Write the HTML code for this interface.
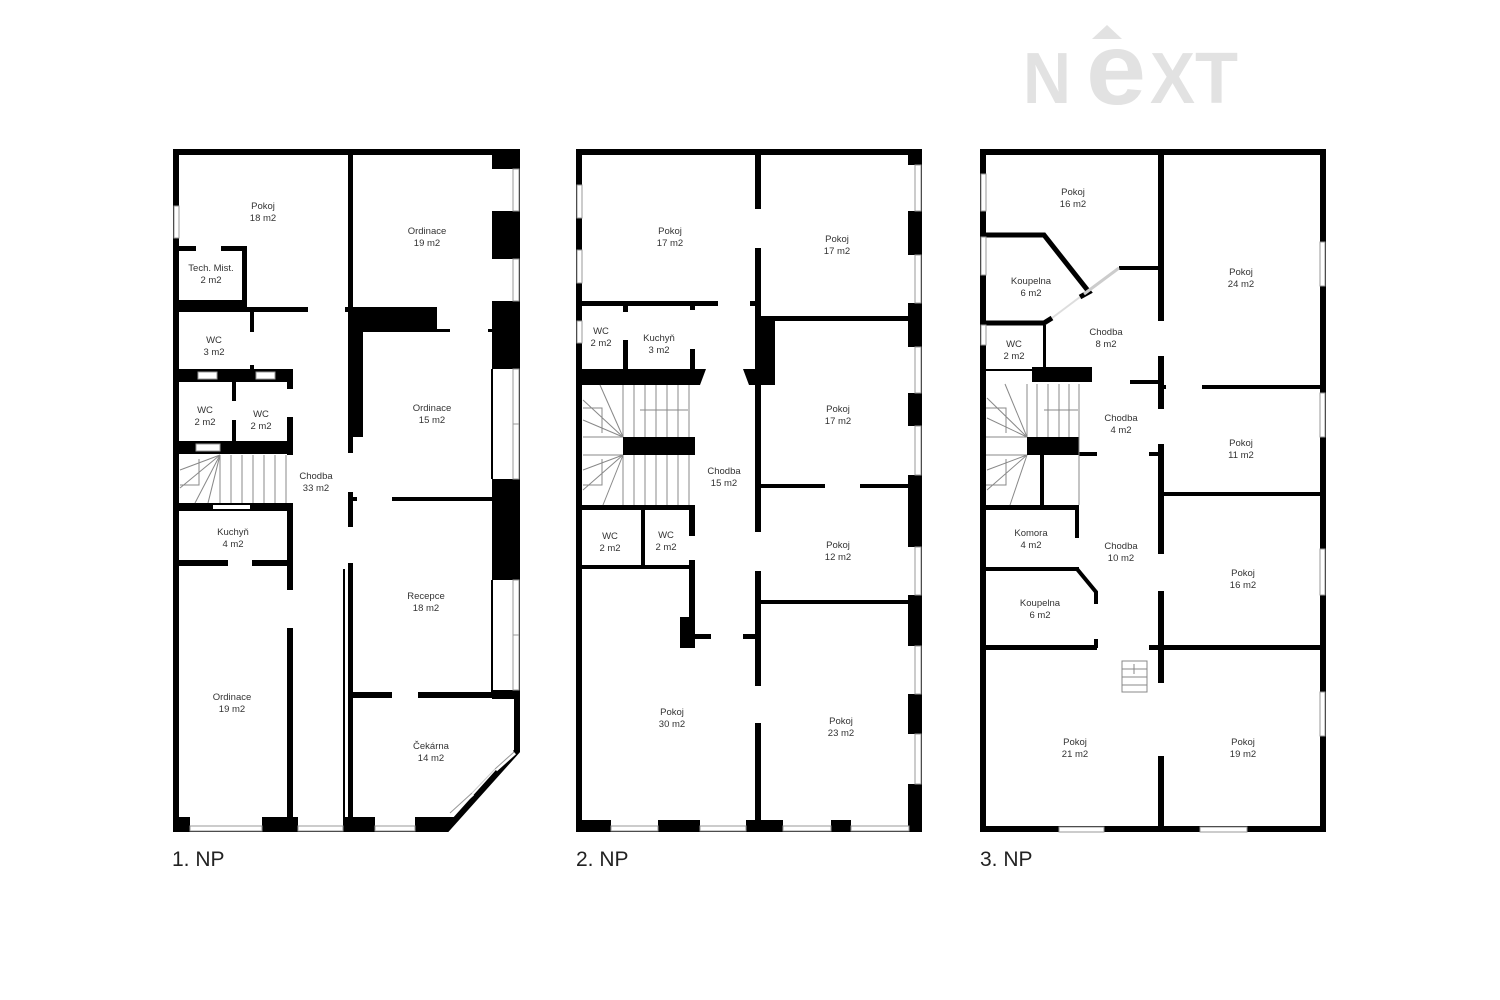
<!DOCTYPE html>
<html><head><meta charset="utf-8"><style>
html,body{margin:0;padding:0;background:#fff;}
svg{display:block;}
text{font-family:"Liberation Sans",sans-serif;}
.l{font-size:9.5px;fill:#333;text-anchor:middle;}
.w{fill:#fff;stroke:#999;stroke-width:1;}
.s{stroke:#888;stroke-width:1;fill:none;}
</style></head><body>
<svg width="1500" height="1000" viewBox="0 0 1500 1000" xmlns="http://www.w3.org/2000/svg">
<rect width="1500" height="1000" fill="#fff"/>
<!-- logo -->
<g fill="#e2e2e2" font-weight="bold" font-family="Liberation Sans, sans-serif">
<text x="1023" y="103" font-size="72" textLength="48" lengthAdjust="spacingAndGlyphs">N</text>
<text x="1086" y="104" font-size="102" textLength="60" lengthAdjust="spacingAndGlyphs">e</text>
<text x="1150" y="103" font-size="72" textLength="45" lengthAdjust="spacingAndGlyphs">X</text>
<text x="1195" y="103" font-size="72" textLength="43" lengthAdjust="spacingAndGlyphs">T</text>
</g>
<polygon points="1092,39 1107,25 1122,39" fill="#e2e2e2"/>

<!-- ================= FLOOR 1 ================= -->
<g fill="#000">
<polygon points="176,152 517,152 517,751 447,829 176,829" fill="none" stroke="#000" stroke-width="6"/>
<rect x="348" y="149" width="5" height="304"/>
<rect x="348" y="492" width="5" height="35"/>
<rect x="348" y="563" width="5" height="269"/>
<rect x="343" y="569" width="2" height="262"/>
<rect x="176" y="246" width="20" height="5"/>
<rect x="221" y="246" width="25" height="5"/>
<rect x="242" y="246" width="5" height="66"/>
<rect x="173" y="300" width="74" height="12"/>
<rect x="173" y="307" width="135" height="5"/>
<rect x="345" y="307" width="8" height="5"/>
<rect x="250" y="310" width="4" height="22"/>
<rect x="250" y="365" width="4" height="8"/>
<rect x="173" y="369" width="119" height="13"/>
<rect x="232" y="381" width="4" height="20"/>
<rect x="232" y="420" width="4" height="26"/>
<rect x="287" y="369" width="6" height="20"/>
<rect x="287" y="417" width="6" height="38"/>
<rect x="173" y="441" width="120" height="13"/>
<rect x="173" y="503" width="120" height="8"/>
<rect x="287" y="503" width="6" height="87"/>
<rect x="287" y="628" width="6" height="204"/>
<rect x="173" y="560" width="55" height="6"/>
<rect x="252" y="560" width="41" height="6"/>
<rect x="173" y="817" width="17" height="15"/>
<rect x="262" y="817" width="36" height="15"/>
<rect x="343" y="817" width="32" height="15"/>
<polygon points="415,817 455,817 447,832 415,832"/>
<rect x="348" y="307" width="89" height="25"/>
<rect x="437" y="329" width="13" height="3"/>
<rect x="488" y="329" width="26" height="3"/>
<rect x="353" y="310" width="10" height="127"/>
<rect x="353" y="497" width="4" height="4"/>
<rect x="392" y="497" width="100" height="4"/>
<rect x="491" y="369" width="2" height="110"/>
<rect x="491" y="580" width="2" height="112"/>
<rect x="492" y="149" width="28" height="20"/>
<rect x="492" y="211" width="28" height="48"/>
<rect x="492" y="301" width="28" height="68"/>
<rect x="492" y="479" width="28" height="101"/>
<rect x="492" y="690" width="28" height="9"/>
<rect x="348" y="692" width="44" height="6"/>
<rect x="418" y="692" width="102" height="6"/>
</g>
<g>
<rect class="w" x="198" y="372" width="19" height="7"/>
<rect class="w" x="256" y="372" width="19" height="7"/>
<rect class="w" x="196" y="444" width="24" height="7"/>
<rect x="213" y="505" width="37" height="4" fill="#fff"/>
<rect x="228" y="561" width="24" height="4" fill="#fff"/>
<rect class="w" x="174" y="206" width="5" height="32"/>
<rect class="w" x="513" y="169" width="6" height="42"/>
<rect class="w" x="513" y="259" width="6" height="42"/>
<rect class="w" x="513" y="369" width="6" height="55"/>
<rect class="w" x="513" y="424" width="6" height="55"/>
<rect class="w" x="513" y="580" width="6" height="55"/>
<rect class="w" x="513" y="635" width="6" height="55"/>
<rect class="w" x="190" y="826" width="72" height="5"/>
<rect class="w" x="298" y="826" width="45" height="5"/>
<rect class="w" x="375" y="826" width="40" height="5"/>
<line x1="495" y1="769" x2="514" y2="752" stroke="#fff" stroke-width="6"/>
<line x1="450" y1="813" x2="472" y2="793" stroke="#fff" stroke-width="6"/>
<line x1="495" y1="769" x2="514" y2="752" stroke="#999" stroke-width="1"/>
<line x1="450" y1="813" x2="472" y2="793" stroke="#999" stroke-width="1"/>
<line x1="472" y1="793" x2="495" y2="769" stroke="#ccc" stroke-width="1"/>
</g>
<g class="s">
<line x1="220" y1="455" x2="220" y2="503"/><line x1="231" y1="455" x2="231" y2="503"/>
<line x1="242" y1="455" x2="242" y2="503"/><line x1="253" y1="455" x2="253" y2="503"/>
<line x1="264" y1="455" x2="264" y2="503"/><line x1="275" y1="455" x2="275" y2="503"/>
<line x1="286" y1="455" x2="286" y2="503"/>
<line x1="220" y1="455" x2="180" y2="470"/><line x1="220" y1="455" x2="180" y2="488"/>
<line x1="220" y1="455" x2="195" y2="503"/><line x1="220" y1="455" x2="208" y2="503"/>
<polyline points="199,459 199,485 180,485"/>
</g>
<g class="l">
<text x="263" y="209">Pokoj</text><text x="263" y="221">18 m2</text>
<text x="211" y="271">Tech. Mist.</text><text x="211" y="283">2 m2</text>
<text x="427" y="234">Ordinace</text><text x="427" y="246">19 m2</text>
<text x="214" y="343">WC</text><text x="214" y="355">3 m2</text>
<text x="205" y="413">WC</text><text x="205" y="425">2 m2</text>
<text x="261" y="417">WC</text><text x="261" y="429">2 m2</text>
<text x="316" y="479">Chodba</text><text x="316" y="491">33 m2</text>
<text x="432" y="411">Ordinace</text><text x="432" y="423">15 m2</text>
<text x="233" y="535">Kuchyň</text><text x="233" y="547">4 m2</text>
<text x="426" y="599">Recepce</text><text x="426" y="611">18 m2</text>
<text x="232" y="700">Ordinace</text><text x="232" y="712">19 m2</text>
<text x="431" y="749">Čekárna</text><text x="431" y="761">14 m2</text>
</g>
<text x="172" y="866" font-size="21" fill="#222">1. NP</text>

<!-- ================= FLOOR 2 ================= -->
<g fill="#000">
<rect x="579" y="152" width="340" height="677" fill="none" stroke="#000" stroke-width="6"/>
<rect x="755" y="149" width="6" height="60"/>
<rect x="755" y="248" width="6" height="284"/>
<rect x="755" y="571" width="6" height="115"/>
<rect x="755" y="723" width="6" height="109"/>
<rect x="755" y="321" width="20" height="64"/>
<rect x="576" y="301" width="142" height="5"/>
<rect x="750" y="301" width="5" height="5"/>
<rect x="761" y="316" width="155" height="5"/>
<rect x="908" y="149" width="14" height="16"/>
<rect x="908" y="211" width="14" height="44"/>
<rect x="908" y="303" width="14" height="44"/>
<rect x="908" y="393" width="14" height="33"/>
<rect x="908" y="475" width="14" height="72"/>
<rect x="908" y="595" width="14" height="51"/>
<rect x="908" y="694" width="14" height="40"/>
<rect x="908" y="784" width="14" height="48"/>
<rect x="761" y="484" width="64" height="4"/>
<rect x="860" y="484" width="56" height="4"/>
<rect x="761" y="600" width="155" height="4"/>
<rect x="623" y="306" width="5" height="6"/>
<rect x="623" y="340" width="5" height="30"/>
<rect x="690" y="306" width="5" height="4"/>
<rect x="690" y="349" width="5" height="21"/>
<polygon points="576,369 706,369 700,385 576,385"/>
<polygon points="743,369 755,369 755,385 749,385"/>
<rect x="623" y="437" width="72" height="18"/>
<rect x="576" y="505" width="119" height="5"/>
<rect x="641" y="510" width="4" height="55"/>
<rect x="689" y="505" width="6" height="31"/>
<rect x="689" y="560" width="6" height="88"/>
<rect x="576" y="565" width="119" height="4"/>
<rect x="680" y="617" width="15" height="31"/>
<rect x="695" y="634" width="16" height="5"/>
<rect x="743" y="634" width="12" height="5"/>
<rect x="576" y="820" width="35" height="12"/>
<rect x="658" y="820" width="42" height="12"/>
<rect x="746" y="820" width="37" height="12"/>
<rect x="831" y="820" width="20" height="12"/>
<rect x="909" y="820" width="13" height="12"/>
</g>
<g>
<rect class="w" x="577" y="185" width="5" height="33"/>
<rect class="w" x="577" y="250" width="5" height="33"/>
<rect class="w" x="577" y="321" width="5" height="22"/>
<rect class="w" x="915" y="165" width="6" height="46"/>
<rect class="w" x="915" y="255" width="6" height="48"/>
<rect class="w" x="915" y="347" width="6" height="46"/>
<rect class="w" x="915" y="426" width="6" height="49"/>
<rect class="w" x="915" y="547" width="6" height="48"/>
<rect class="w" x="915" y="646" width="6" height="48"/>
<rect class="w" x="915" y="734" width="6" height="50"/>
<rect class="w" x="611" y="826" width="47" height="5"/>
<rect class="w" x="700" y="826" width="46" height="5"/>
<rect class="w" x="783" y="826" width="48" height="5"/>
<rect class="w" x="851" y="826" width="58" height="5"/>
</g>
<g class="s">
<line x1="634" y1="385" x2="634" y2="437"/><line x1="645" y1="385" x2="645" y2="437"/>
<line x1="656" y1="385" x2="656" y2="437"/><line x1="667" y1="385" x2="667" y2="437"/>
<line x1="678" y1="385" x2="678" y2="437"/><line x1="689" y1="385" x2="689" y2="437"/>
<line x1="623" y1="385" x2="623" y2="437"/>
<line x1="634" y1="455" x2="634" y2="505"/><line x1="645" y1="455" x2="645" y2="505"/>
<line x1="656" y1="455" x2="656" y2="505"/><line x1="667" y1="455" x2="667" y2="505"/>
<line x1="678" y1="455" x2="678" y2="505"/><line x1="689" y1="455" x2="689" y2="505"/>
<line x1="623" y1="455" x2="623" y2="505"/>
<line x1="623" y1="437" x2="600" y2="385"/><line x1="623" y1="437" x2="583" y2="400"/><line x1="623" y1="437" x2="583" y2="420"/>
<line x1="623" y1="455" x2="583" y2="470"/><line x1="623" y1="455" x2="583" y2="490"/><line x1="623" y1="455" x2="603" y2="505"/>
<polyline points="583,437 623,437"/><polyline points="583,455 623,455"/>
<polyline points="602,459 602,485 583,485"/><polyline points="602,433 602,408 583,408"/>
<line x1="640" y1="410" x2="688" y2="410"/>
</g>
<g class="l">
<text x="670" y="234">Pokoj</text><text x="670" y="246">17 m2</text>
<text x="837" y="242">Pokoj</text><text x="837" y="254">17 m2</text>
<text x="601" y="334">WC</text><text x="601" y="346">2 m2</text>
<text x="659" y="341">Kuchyň</text><text x="659" y="353">3 m2</text>
<text x="838" y="412">Pokoj</text><text x="838" y="424">17 m2</text>
<text x="724" y="474">Chodba</text><text x="724" y="486">15 m2</text>
<text x="838" y="548">Pokoj</text><text x="838" y="560">12 m2</text>
<text x="610" y="539">WC</text><text x="610" y="551">2 m2</text>
<text x="666" y="538">WC</text><text x="666" y="550">2 m2</text>
<text x="672" y="715">Pokoj</text><text x="672" y="727">30 m2</text>
<text x="841" y="724">Pokoj</text><text x="841" y="736">23 m2</text>
</g>
<text x="576" y="866" font-size="21" fill="#222">2. NP</text>

<!-- ================= FLOOR 3 ================= -->
<g fill="#000">
<rect x="983" y="152" width="340" height="677" fill="none" stroke="#000" stroke-width="6"/>
<rect x="1158" y="149" width="6" height="172"/>
<rect x="1158" y="356" width="6" height="53"/>
<rect x="1158" y="444" width="6" height="110"/>
<rect x="1158" y="591" width="6" height="92"/>
<rect x="1158" y="756" width="6" height="76"/>
<polyline points="980,235 1044,235 1089,292 1080,297" fill="none" stroke="#000" stroke-width="5"/>
<rect x="1119" y="266" width="39" height="4"/>
<polyline points="980,323 1044,323 1052,318" fill="none" stroke="#000" stroke-width="5"/>
<rect x="1043" y="325" width="3" height="42"/>
<rect x="1032" y="367" width="60" height="15"/>
<rect x="980" y="369" width="52" height="2"/>
<rect x="1130" y="380" width="28" height="4"/>
<rect x="1164" y="385" width="2" height="4"/>
<rect x="1202" y="385" width="124" height="4"/>
<rect x="1027" y="437" width="52" height="18"/>
<rect x="1040" y="455" width="4" height="50"/>
<rect x="1079" y="452" width="18" height="4"/>
<rect x="1149" y="452" width="9" height="4"/>
<rect x="1164" y="492" width="162" height="4"/>
<rect x="980" y="505" width="99" height="5"/>
<rect x="1075" y="505" width="4" height="33"/>
<rect x="980" y="567" width="99" height="4"/>
<polyline points="1077,569 1096,592 1096,604" fill="none" stroke="#000" stroke-width="4"/>
<rect x="1094" y="639" width="4" height="9"/>
<rect x="980" y="645" width="117" height="5"/>
<rect x="1149" y="645" width="177" height="5"/>
</g>
<g>
<rect class="w" x="981" y="174" width="5" height="37"/>
<rect class="w" x="981" y="237" width="5" height="38"/>
<rect class="w" x="981" y="325" width="5" height="20"/>
<rect class="w" x="1320" y="242" width="5" height="44"/>
<rect class="w" x="1320" y="393" width="5" height="44"/>
<rect class="w" x="1320" y="549" width="5" height="46"/>
<rect class="w" x="1320" y="692" width="5" height="44"/>
<rect class="w" x="1059" y="827" width="45" height="5"/>
<rect class="w" x="1200" y="827" width="47" height="5"/>
<line x1="1084" y1="294" x2="1119" y2="268" stroke="#ccc" stroke-width="3"/>
<line x1="1052" y1="318" x2="1080" y2="297" stroke="#ddd" stroke-width="2"/>
<rect x="1122" y="661" width="25" height="31" fill="#fff" stroke="#888" stroke-width="1"/>
</g>
<g class="s">
<line x1="1122" y1="669" x2="1147" y2="669"/><line x1="1122" y1="677" x2="1147" y2="677"/><line x1="1122" y1="685" x2="1147" y2="685"/>
<line x1="1134" y1="664" x2="1134" y2="674"/>
<line x1="1079" y1="384" x2="1079" y2="505"/>
<line x1="1027" y1="384" x2="1027" y2="437"/><line x1="1037" y1="384" x2="1037" y2="437"/>
<line x1="1048" y1="384" x2="1048" y2="437"/><line x1="1059" y1="384" x2="1059" y2="437"/>
<line x1="1069" y1="384" x2="1069" y2="437"/>
<line x1="1027" y1="437" x2="1005" y2="384"/><line x1="1027" y1="437" x2="987" y2="398"/><line x1="1027" y1="437" x2="987" y2="418"/>
<line x1="1027" y1="455" x2="987" y2="470"/><line x1="1027" y1="455" x2="987" y2="490"/><line x1="1027" y1="455" x2="1010" y2="505"/>
<line x1="986" y1="437" x2="1027" y2="437"/><line x1="986" y1="455" x2="1027" y2="455"/>
<polyline points="1006,433 1006,408 986,408"/><polyline points="1006,459 1006,485 986,485"/>
<line x1="1044" y1="410" x2="1078" y2="410"/>
</g>
<g class="l">
<text x="1073" y="195">Pokoj</text><text x="1073" y="207">16 m2</text>
<text x="1031" y="284">Koupelna</text><text x="1031" y="296">6 m2</text>
<text x="1014" y="347">WC</text><text x="1014" y="359">2 m2</text>
<text x="1106" y="335">Chodba</text><text x="1106" y="347">8 m2</text>
<text x="1241" y="275">Pokoj</text><text x="1241" y="287">24 m2</text>
<text x="1121" y="421">Chodba</text><text x="1121" y="433">4 m2</text>
<text x="1241" y="446">Pokoj</text><text x="1241" y="458">11 m2</text>
<text x="1031" y="536">Komora</text><text x="1031" y="548">4 m2</text>
<text x="1121" y="549">Chodba</text><text x="1121" y="561">10 m2</text>
<text x="1040" y="606">Koupelna</text><text x="1040" y="618">6 m2</text>
<text x="1243" y="576">Pokoj</text><text x="1243" y="588">16 m2</text>
<text x="1075" y="745">Pokoj</text><text x="1075" y="757">21 m2</text>
<text x="1243" y="745">Pokoj</text><text x="1243" y="757">19 m2</text>
</g>
<text x="980" y="866" font-size="21" fill="#222">3. NP</text>
</svg>
</body></html>
